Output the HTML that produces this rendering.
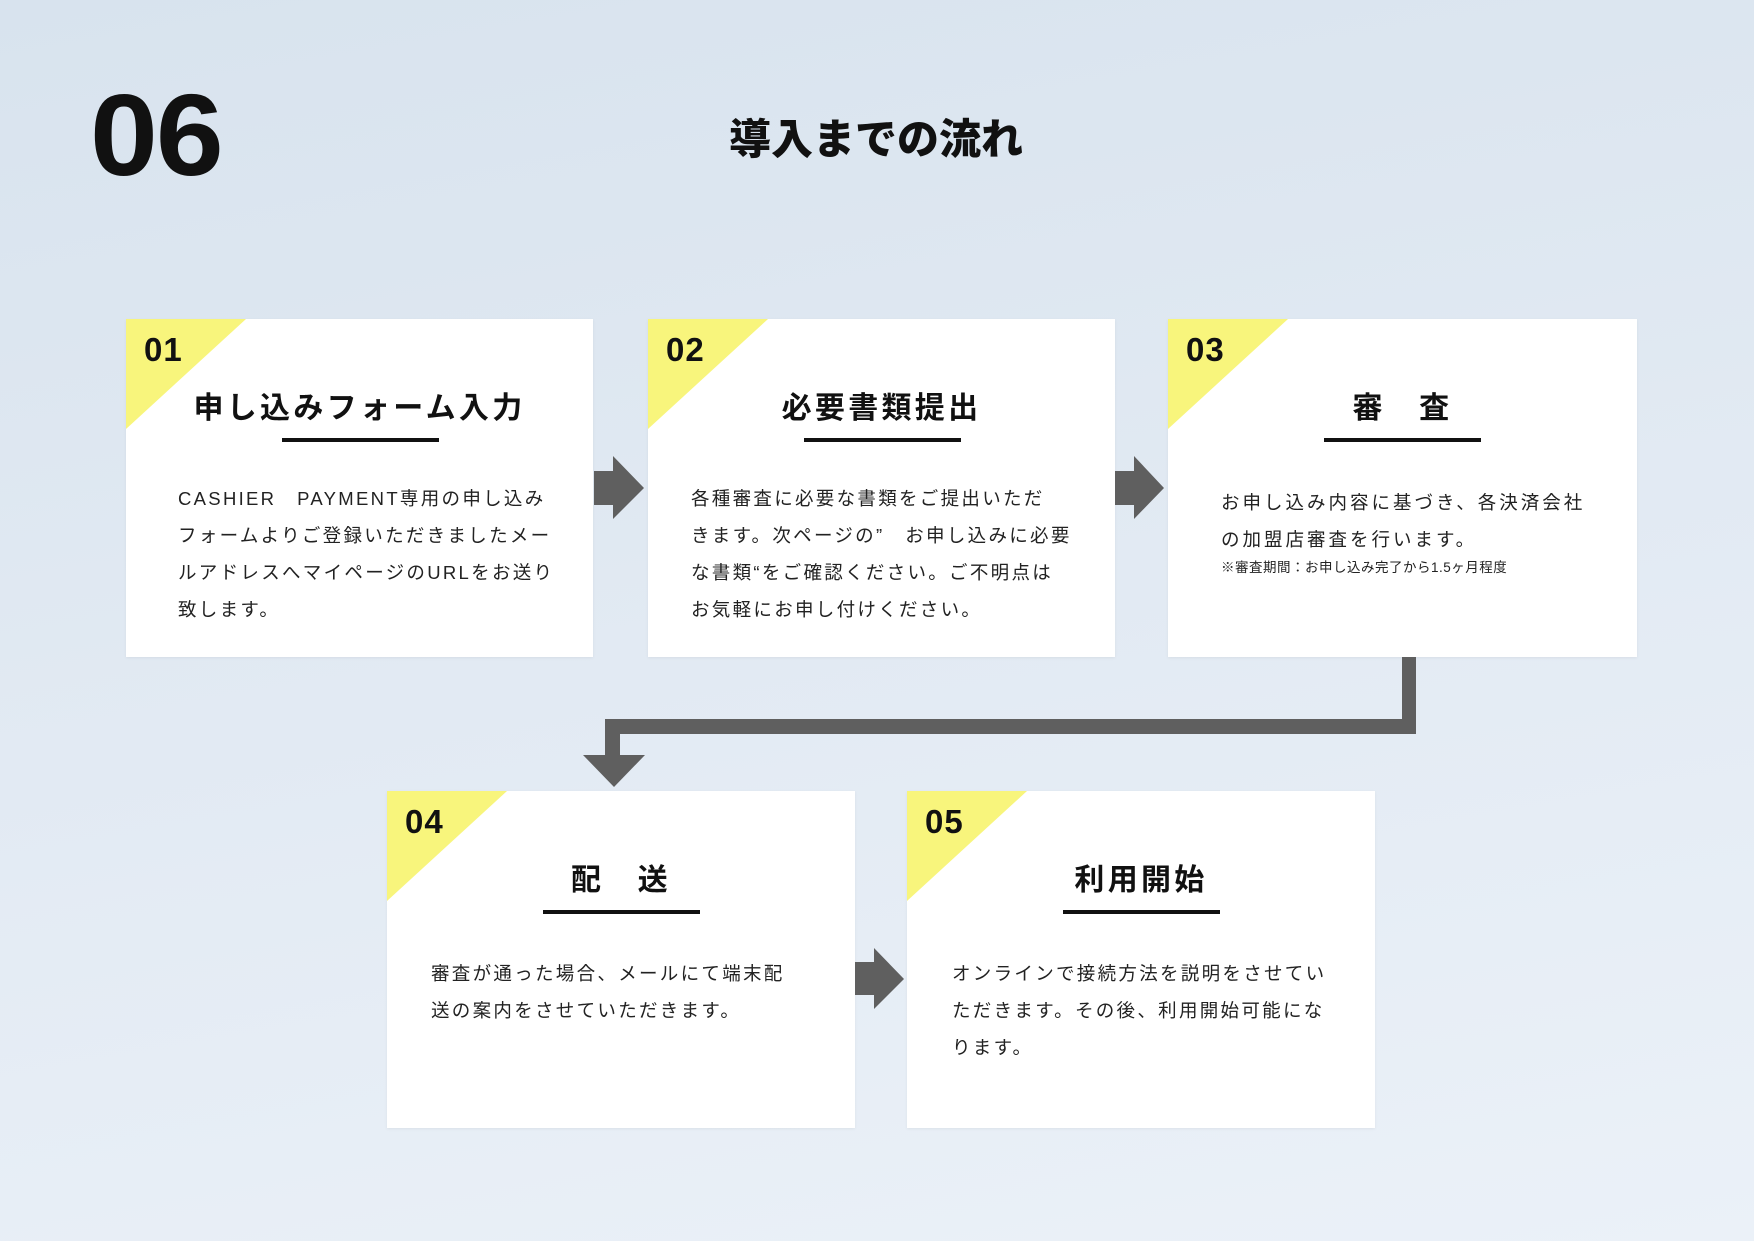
<!DOCTYPE html>
<html><head><meta charset="utf-8"><style>
*{margin:0;padding:0;box-sizing:border-box}
body{width:1754px;height:1241px;overflow:hidden;position:relative;background:linear-gradient(170deg,#d8e3ee 0%,#e2eaf3 50%,#ebf1f8 100%);font-family:"Liberation Sans","Noto Sans CJK JP",sans-serif;color:#111}
.abs{position:absolute}
.card{position:absolute;background:#fff;box-shadow:0 1px 3px rgba(0,0,0,0.06);overflow:hidden}
.tri{position:absolute;left:0;top:0;width:0;height:0;border-top:110px solid #f8f57c;border-right:120px solid transparent}
.num{position:absolute;left:18px;top:12px;font-size:33px;font-weight:bold;font-family:"Liberation Sans",sans-serif;letter-spacing:1px}
.h{position:absolute;left:0;right:0;top:64px;text-align:center;font-family:"Noto Sans CJK JP",sans-serif;font-weight:bold;font-size:30px;letter-spacing:3.3px;line-height:44px}
.ul{position:absolute;left:156px;width:157px;top:119px;height:4px;background:#111}
.body{position:absolute;font-family:"Liberation Sans","Noto Sans CJK JP",sans-serif;font-size:18.5px;letter-spacing:2.3px;line-height:37px;color:#222;white-space:nowrap}
.small{font-size:13.5px;letter-spacing:0.5px;line-height:20px;display:block}
.g{position:absolute;background:#5f5f5f}
</style></head><body>
<div class="abs" style="left:90px;top:76px;font-size:122px;font-weight:bold;letter-spacing:-2px;line-height:124px;transform:scaleY(0.95);transform-origin:top left">06</div>
<div class="abs" style="left:696px;top:109px;width:360px;text-align:center;font-family:'Noto Sans CJK JP',sans-serif;font-weight:900;font-size:42px;line-height:56px">導入までの流れ</div>

<div class="card" style="left:126px;top:319px;width:467px;height:338px">
<div class="tri"></div><div class="num">01</div>
<div class="h">申し込みフォーム入力</div><div class="ul"></div>
<div class="body" style="left:52px;top:161px">CASHIER　PAYMENT専用の申し込み<br>フォームよりご登録いただきましたメー<br>ルアドレスへマイページのURLをお送り<br>致します。</div>
</div>

<div class="card" style="left:648px;top:319px;width:467px;height:338px">
<div class="tri"></div><div class="num">02</div>
<div class="h">必要書類提出</div><div class="ul"></div>
<div class="body" style="left:43px;top:161px">各種審査に必要な書類をご提出いただ<br>きます。次ページの”　お申し込みに必要<br>な書類“をご確認ください。ご不明点は<br>お気軽にお申し付けください。</div>
</div>

<div class="card" style="left:1168px;top:319px;width:469px;height:338px">
<div class="tri"></div><div class="num">03</div>
<div class="h">審　査</div><div class="ul"></div>
<div class="body" style="left:53px;top:165px;letter-spacing:3px">お申し込み内容に基づき、各決済会社<br>の加盟店審査を行います。<span class="small">※審査期間：お申し込み完了から1.5ヶ月程度</span></div>
</div>

<div class="card" style="left:387px;top:791px;width:468px;height:337px">
<div class="tri"></div><div class="num">04</div>
<div class="h">配　送</div><div class="ul"></div>
<div class="body" style="left:44px;top:164px">審査が通った場合、メールにて端末配<br>送の案内をさせていただきます。</div>
</div>

<div class="card" style="left:907px;top:791px;width:468px;height:337px">
<div class="tri"></div><div class="num">05</div>
<div class="h">利用開始</div><div class="ul"></div>
<div class="body" style="left:45px;top:164px">オンラインで接続方法を説明をさせてい<br>ただきます。その後、利用開始可能にな<br>ります。</div>
</div>

<svg class="abs" style="left:0;top:0" width="1754" height="1241">
<g fill="#5f5f5f">
<polygon points="594,471 613,471 613,456 644,488 613,519 613,505 594,505"/>
<polygon points="1115,471 1134,471 1134,456 1164,488 1134,519 1134,505 1115,505"/>
<polygon points="855,962 874,962 874,948 904,979 874,1009 874,995 855,995"/>
<rect x="1402" y="657" width="14" height="77"/>
<rect x="605" y="719" width="811" height="15"/>
<rect x="605" y="719" width="15" height="38"/>
<polygon points="583,755 645,755 614,787"/>
</g>
</svg>
</body></html>
